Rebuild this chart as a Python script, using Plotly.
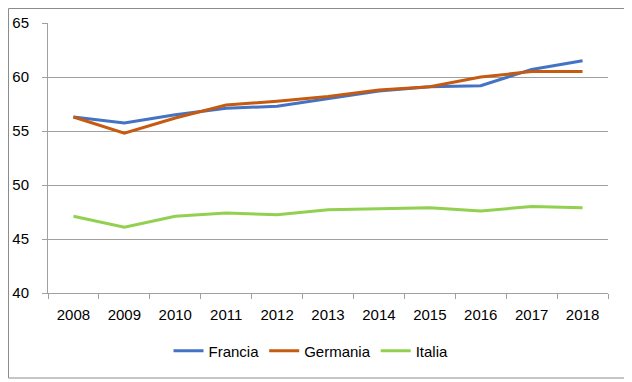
import plotly.graph_objects as go

years = ["2008", "2009", "2010", "2011", "2012", "2013", "2014", "2015", "2016", "2017", "2018"]
francia = [56.3, 55.75, 56.5, 57.1, 57.3, 58.0, 58.7, 59.1, 59.2, 60.7, 61.5]
germania = [56.3, 54.8, 56.2, 57.4, 57.75, 58.2, 58.8, 59.1, 60.0, 60.5, 60.5]
italia = [47.1, 46.1, 47.1, 47.4, 47.25, 47.7, 47.8, 47.9, 47.6, 48.0, 47.9]

# page has an 8px body margin, so the figure is sized/offset to compensate
W, H = 624, 374
ML, MR, MT, MB = 40, 24, 15, 89
FONT = "Liberation Sans"
GRID = "#a0a0a0"

fig = go.Figure()
for name, vals, col in [("Francia", francia, "#4472C4"),
                        ("Germania", germania, "#C55A11"),
                        ("Italia", italia, "#92D050")]:
    fig.add_trace(go.Scatter(x=years, y=vals, mode="lines", name=name,
                             line=dict(color=col, width=3)))

pw = W - ML - MR
ph = H - MT - MB
# outer chart border in paper coordinates
x0 = (0.5 - ML) / pw
x1 = (620 - ML) / pw
y0 = (H - MB - 370) / ph
y1 = (H - MB - 0.5) / ph
fig.add_shape(type="rect", xref="paper", yref="paper", x0=x0, x1=x1, y0=y0, y1=y1,
              line=dict(color="#8c8c8c", width=1), fillcolor="rgba(0,0,0,0)", layer="below")

fig.update_layout(
    width=W, height=H,
    margin=dict(l=ML, r=MR, t=MT, b=MB, autoexpand=False),
    paper_bgcolor="white", plot_bgcolor="white",
    font=dict(family=FONT, size=15, color="#000000"),
    showlegend=True,
    legend=dict(orientation="h", xref="container", x=(311 - 8) / W, xanchor="center",
                yref="container", y=(H - (351 - 8)) / H, yanchor="middle",
                font=dict(size=15), itemwidth=30),
    xaxis=dict(type="category", range=[-0.5, len(years) - 0.5], automargin=False,
               showgrid=False, showline=True, linecolor=GRID, linewidth=1,
               ticks="outside", tickson="boundaries", ticklen=5, tickcolor=GRID,
               ticklabelstandoff=8, tickfont=dict(size=15)),
    yaxis=dict(range=[40, 65], dtick=5, automargin=False, showgrid=True, gridcolor=GRID, gridwidth=1,
               showline=True, linecolor=GRID, linewidth=1, zeroline=False,
               ticks="outside", ticklen=5, tickcolor=GRID,
               ticklabelstandoff=10, tickfont=dict(size=15)),
)

fig.write_html("out.html")
